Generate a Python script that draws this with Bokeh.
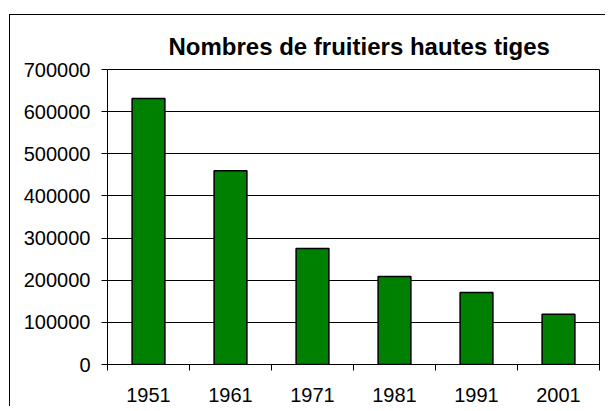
from bokeh.plotting import figure
from bokeh.models import FixedTicker, NumeralTickFormatter, ColumnDataSource
from bokeh.embed import file_html
from bokeh.resources import INLINE

# Data
title_text = "Nombres de fruitiers hautes tiges"
years = ["1951", "1961", "1971", "1981", "1991", "2001"]
counts = [631000, 460000, 275000, 209000, 171000, 119000]
y_ticks = [0, 100000, 200000, 300000, 400000, 500000, 600000, 700000]

n = len(years)
centers = [i + 0.5 for i in range(n)]
bounds = [i for i in range(n + 1)]

src = ColumnDataSource(dict(x=centers, top=counts, year=years))

p = figure(width=596, height=392, x_range=(0, n), y_range=(0, max(y_ticks)),
           output_backend="svg", toolbar_location=None,
           title=title_text,
           margin=(14, 0, 0, 9),
           min_border_left=97, min_border_right=7, min_border_top=54, min_border_bottom=43)
# outer chart-area border: only its left and top edges fall inside the window
p.styles = {"border-left": "1px solid black", "border-top": "1px solid black"}

p.vbar(x="x", top="top", width=0.4, source=src, fill_color="#008000",
       line_color="black", line_width=1.5)

FONT = "Liberation Sans"
p.title.text_font = FONT
p.title.text_font_size = "24px"
p.title.text_font_style = "bold"
p.title.text_color = "black"
p.title.align = "left"
p.title.offset = 61
p.title.standoff = 20

p.background_fill_color = "white"
p.border_fill_color = "white"
p.outline_line_color = "black"
p.outline_line_width = 1

p.xgrid.visible = False
p.ygrid.ticker = FixedTicker(ticks=y_ticks)
p.ygrid.grid_line_color = "black"
p.ygrid.grid_line_width = 1

ya = p.yaxis[0]
ya.ticker = FixedTicker(ticks=y_ticks)
ya.formatter = NumeralTickFormatter(format="0")
ya.major_tick_out = 6
ya.major_tick_in = 0
ya.minor_tick_out = 0
ya.minor_tick_in = 0
ya.axis_line_color = "black"
ya.major_tick_line_color = "black"
ya.major_label_text_font = FONT
ya.major_label_text_font_size = "20px"
ya.major_label_text_color = "black"
ya.major_label_standoff = 11

xa = p.xaxis[0]
xa.ticker = FixedTicker(ticks=centers, minor_ticks=bounds)
xa.major_label_overrides = {c: y for c, y in zip(centers, years)}
xa.major_tick_out = 0
xa.major_tick_in = 0
xa.minor_tick_out = 6
xa.minor_tick_in = 0
xa.minor_tick_line_color = "black"
xa.axis_line_color = "black"
xa.major_label_text_font = FONT
xa.major_label_text_font_size = "20px"
xa.major_label_text_color = "black"
xa.major_label_standoff = 17

open("out.html", "w").write(file_html(p, INLINE))
